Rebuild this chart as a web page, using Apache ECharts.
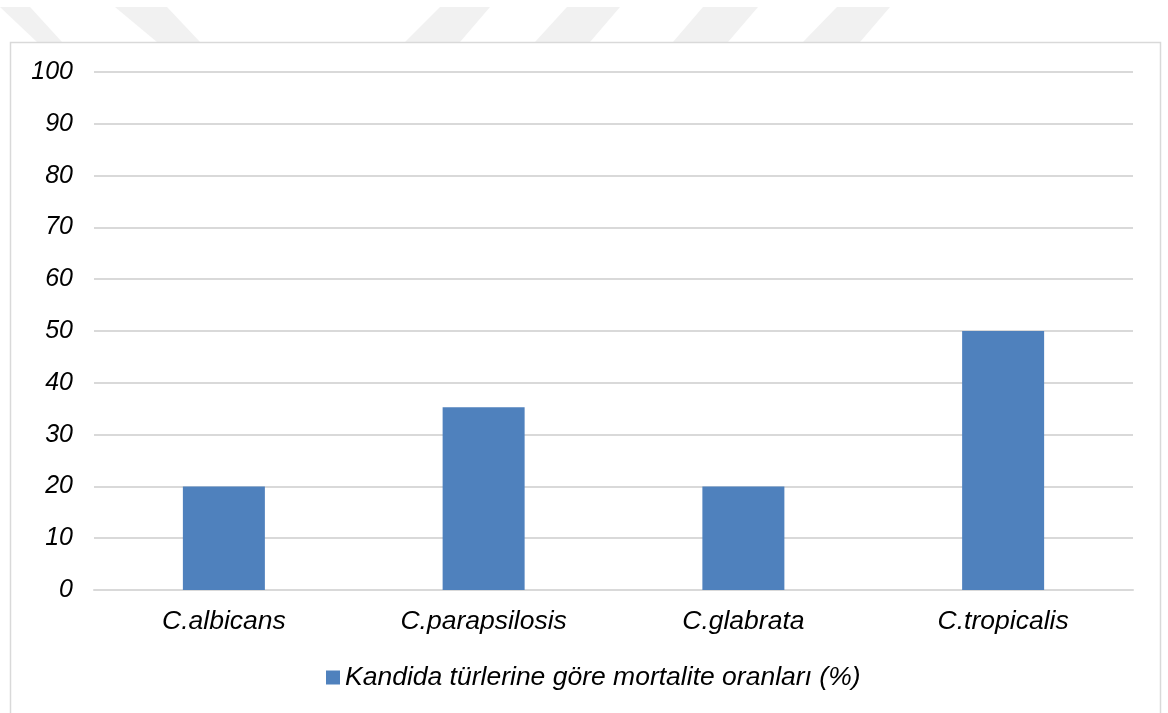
<!DOCTYPE html>
<html>
<head>
<meta charset="utf-8">
<script src="https://cdn.jsdelivr.net/npm/echarts@6/dist/echarts.min.js"></script>
<style>
  html, body { margin: 0; padding: 0; background: #ffffff; }
  #chart { width: 1168px; height: 713px; }
</style>
</head>
<body>
<div id="chart"></div>
<script>
// Candida species and their mortality rates (%)
const categories = ['C.albicans', 'C.parapsilosis', 'C.glabrata', 'C.tropicalis'];
const mortality = [20, 35.3, 20, 50];
const seriesName = 'Kandida türlerine göre mortalite oranları (%)';
const yTicks = { min: 0, max: 100, interval: 10 };

const FONT = '"Liberation Sans", Arial, sans-serif';
const BAR = '#4f81bd';
const STRIPE = '#f1f1f1';

// light diagonal banner stripes above the chart frame
function stripe(x0, x1, x2, x3) {
  return {
    type: 'polygon',
    silent: true,
    z: -10,
    shape: { points: [[x0, 7], [x1, 7], [x3, 42], [x2, 42]] },
    style: { fill: STRIPE }
  };
}

const chart = echarts.init(document.getElementById('chart'), null, { renderer: 'canvas' });
chart.setOption({
  backgroundColor: '#ffffff',
  animation: false,
  graphic: [
    stripe(0, 30, 37, 62),
    stripe(115, 167, 157, 200),
    stripe(440, 490, 405, 460),
    stripe(567, 620, 535, 590),
    stripe(703, 758, 673, 728),
    stripe(837, 890, 803, 860),
    {
      type: 'rect',
      silent: true,
      z: -5,
      shape: { x: 10.5, y: 42.5, width: 1150, height: 700 },
      style: { fill: '#ffffff', stroke: '#d9d9d9', lineWidth: 1.5 }
    }
  ],
  grid: { left: 94, right: 35, top: 72, bottom: 123, containLabel: false },
  legend: {
    data: [seriesName],
    left: 321,
    top: 659,
    icon: 'rect',
    itemWidth: 14,
    itemHeight: 14,
    itemGap: 8,
    textStyle: { fontFamily: FONT, fontStyle: 'italic', fontSize: 26.5, color: '#000000' }
  },
  xAxis: {
    type: 'category',
    data: categories,
    axisLine: { show: true, lineStyle: { color: '#d9d9d9', width: 2 } },
    axisTick: { show: false },
    axisLabel: {
      margin: 18,
      fontFamily: FONT, fontStyle: 'italic', fontSize: 26.5, color: '#000000'
    }
  },
  yAxis: {
    type: 'value',
    min: yTicks.min,
    max: yTicks.max,
    interval: yTicks.interval,
    axisLine: { show: false },
    axisTick: { show: false },
    splitLine: { lineStyle: { color: '#d9d9d9', width: 2 } },
    axisLabel: {
      margin: 21,
      fontFamily: FONT, fontStyle: 'italic', fontSize: 25, color: '#000000'
    }
  },
  series: [{
    name: seriesName,
    type: 'bar',
    data: mortality,
    barWidth: 82,
    itemStyle: { color: BAR }
  }]
});
</script>
</body>
</html>
